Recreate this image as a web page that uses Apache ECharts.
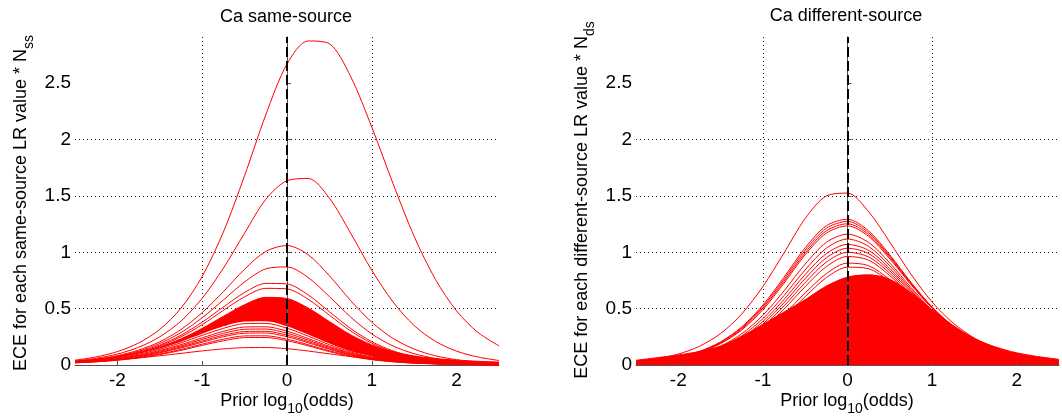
<!DOCTYPE html>
<html>
<head>
<meta charset="utf-8">
<script src="https://cdn.jsdelivr.net/npm/echarts@6/dist/echarts.min.js"></script>
<style>
  html, body { margin: 0; padding: 0; background: #fff; }
  #chart { width: 1062px; height: 419px; }
</style>
</head>
<body>
<div id="chart"></div>
<script>
// Prior log10(odds) sample positions shared by every curve
const priorLogOdds = [-2.5, -2.25, -2, -1.75, -1.5, -1.25, -1, -0.75, -0.5, -0.25, 0,
                      0.25, 0.5, 0.75, 1, 1.25, 1.5, 1.75, 2, 2.25, 2.5];

// ---- Ca same-source: per-LR ECE curves (x N_ss) ----
const ssPeak291 = [0.043, 0.072, 0.119, 0.195, 0.316, 0.504, 0.786, 1.18, 1.68, 2.22, 2.67, 2.875, 2.85, 2.56, 2.11, 1.61, 1.14, 0.76, 0.48, 0.29, 0.17];
const ssPeak166 = [0.036, 0.060, 0.097, 0.157, 0.250, 0.390, 0.592, 0.859, 1.17, 1.47, 1.635, 1.655, 1.48, 1.17, 0.84, 0.56, 0.35, 0.21, 0.123, 0.071, 0.040];
const ssPeak106 = [0.032, 0.052, 0.083, 0.132, 0.206, 0.315, 0.465, 0.651, 0.850, 1.008, 1.06, 0.978, 0.792, 0.572, 0.379, 0.236, 0.141, 0.082, 0.047, 0.027, 0.015];
const ssPeak088 = [0.030, 0.049, 0.078, 0.123, 0.191, 0.288, 0.419, 0.577, 0.737, 0.853, 0.870, 0.776, 0.607, 0.426, 0.275, 0.169, 0.100, 0.058, 0.033, 0.019, 0.011];
const ssPeak073 = [0.029, 0.046, 0.074, 0.116, 0.177, 0.264, 0.380, 0.515, 0.643, 0.724, 0.719, 0.622, 0.473, 0.324, 0.207, 0.125, 0.074, 0.042, 0.024, 0.014, 0.008];
const ssPeak069 = [0.028, 0.044, 0.070, 0.110, 0.168, 0.250, 0.358, 0.485, 0.605, 0.680, 0.675, 0.583, 0.442, 0.302, 0.193, 0.116, 0.068, 0.039, 0.022, 0.013, 0.007];

// dense bundle of same-source curves: upper and lower envelope
const ssBundleTop = [0.033, 0.048, 0.072, 0.108, 0.160, 0.232, 0.325, 0.432, 0.535, 0.600, 0.590, 0.505, 0.385, 0.268, 0.178, 0.118, 0.080, 0.057, 0.043, 0.033, 0.026];
const ssBundleBottom = [0.027, 0.043, 0.066, 0.100, 0.147, 0.207, 0.277, 0.343, 0.386, 0.389, 0.344, 0.270, 0.190, 0.122, 0.075, 0.035, 0.018, 0.010, 0.006, 0.004, 0.003];

// separate low curves under the bundle
const ssPeak037 = [0.028, 0.042, 0.064, 0.095, 0.140, 0.197, 0.263, 0.325, 0.367, 0.369, 0.326, 0.256, 0.180, 0.116, 0.071, 0.043, 0.024, 0.014, 0.008, 0.004, 0.002];
const ssPeak034 = [0.025, 0.038, 0.058, 0.087, 0.129, 0.181, 0.241, 0.299, 0.337, 0.339, 0.300, 0.235, 0.165, 0.107, 0.066, 0.039, 0.022, 0.013, 0.007, 0.004, 0.002];
const ssPeak032 = [0.024, 0.036, 0.055, 0.082, 0.121, 0.170, 0.227, 0.281, 0.317, 0.319, 0.282, 0.221, 0.156, 0.100, 0.062, 0.037, 0.021, 0.012, 0.007, 0.004, 0.002];
const ssPeak030 = [0.023, 0.034, 0.052, 0.077, 0.113, 0.160, 0.213, 0.264, 0.297, 0.299, 0.265, 0.208, 0.146, 0.094, 0.058, 0.035, 0.020, 0.012, 0.006, 0.004, 0.002];
const ssPeak028 = [0.022, 0.032, 0.049, 0.073, 0.108, 0.152, 0.202, 0.251, 0.282, 0.284, 0.251, 0.197, 0.139, 0.089, 0.055, 0.033, 0.019, 0.011, 0.006, 0.003, 0.002];
const ssPeak026 = [0.020, 0.029, 0.045, 0.067, 0.098, 0.138, 0.185, 0.229, 0.258, 0.259, 0.229, 0.180, 0.126, 0.082, 0.050, 0.030, 0.017, 0.010, 0.005, 0.003, 0.002];
const ssPeak024 = [0.019, 0.028, 0.042, 0.063, 0.093, 0.130, 0.174, 0.215, 0.243, 0.244, 0.216, 0.170, 0.119, 0.077, 0.047, 0.028, 0.016, 0.010, 0.005, 0.003, 0.001];
const ssPeak016 = [0.022, 0.032, 0.047, 0.063, 0.082, 0.103, 0.125, 0.143, 0.154, 0.155, 0.145, 0.124, 0.099, 0.075, 0.054, 0.037, 0.025, 0.016, 0.010, 0.006, 0.004];

// ---- Ca different-source: per-LR ECE curves (x N_ds) ----
const dsPeak153 = [0.032, 0.055, 0.097, 0.166, 0.279, 0.453, 0.696, 0.995, 1.30, 1.50, 1.525, 1.36, 1.09, 0.806, 0.559, 0.371, 0.239, 0.151, 0.094, 0.057, 0.035];
const dsPeak129 = [0.023, 0.040, 0.070, 0.121, 0.206, 0.338, 0.532, 0.779, 1.040, 1.235, 1.293, 1.190, 0.977, 0.734, 0.515, 0.345, 0.224, 0.142, 0.089, 0.055, 0.033];
const dsPeak127 = [0.022, 0.039, 0.068, 0.118, 0.201, 0.329, 0.519, 0.761, 1.018, 1.213, 1.274, 1.174, 0.966, 0.727, 0.511, 0.343, 0.223, 0.142, 0.089, 0.055, 0.033];
const dsPeak125 = [0.021, 0.038, 0.066, 0.114, 0.195, 0.320, 0.505, 0.743, 0.996, 1.190, 1.253, 1.157, 0.954, 0.720, 0.507, 0.340, 0.221, 0.141, 0.088, 0.054, 0.033];
const dsPeak123 = [0.0205, 0.0365, 0.064, 0.111, 0.189, 0.311, 0.491, 0.726, 0.978, 1.170, 1.234, 1.141, 0.942, 0.713, 0.503, 0.338, 0.220, 0.141, 0.088, 0.054, 0.033];
const dsPeak116 = [0.018, 0.032, 0.056, 0.098, 0.167, 0.277, 0.441, 0.658, 0.896, 1.088, 1.161, 1.087, 0.905, 0.688, 0.487, 0.328, 0.214, 0.137, 0.086, 0.053, 0.032];
const dsPeak112 = [0.017, 0.030, 0.052, 0.091, 0.155, 0.258, 0.411, 0.616, 0.844, 1.036, 1.118, 1.052, 0.880, 0.672, 0.478, 0.323, 0.211, 0.135, 0.085, 0.053, 0.032];
const dsPeak107 = [0.016, 0.028, 0.048, 0.084, 0.144, 0.240, 0.386, 0.581, 0.803, 0.988, 1.070, 1.017, 0.856, 0.658, 0.469, 0.318, 0.208, 0.133, 0.084, 0.052, 0.032];
const dsPeak104 = [0.0145, 0.026, 0.045, 0.079, 0.136, 0.227, 0.364, 0.553, 0.767, 0.951, 1.036, 0.989, 0.836, 0.644, 0.461, 0.313, 0.205, 0.132, 0.083, 0.051, 0.031];
const dsPeak100 = [0.0136, 0.024, 0.0423, 0.0737, 0.127, 0.213, 0.344, 0.524, 0.731, 0.913, 1.0, 0.959, 0.814, 0.628, 0.450, 0.307, 0.201, 0.130, 0.082, 0.051, 0.031];
const dsPeak096 = [0.013, 0.022, 0.040, 0.069, 0.119, 0.200, 0.324, 0.496, 0.696, 0.873, 0.963, 0.930, 0.793, 0.615, 0.442, 0.303, 0.199, 0.128, 0.081, 0.050, 0.031];
const dsPeak090 = [0.0113, 0.020, 0.0353, 0.0617, 0.1065, 0.180, 0.293, 0.451, 0.639, 0.811, 0.904, 0.881, 0.757, 0.591, 0.427, 0.293, 0.194, 0.125, 0.079, 0.049, 0.030];
const dsPeak086 = [0.0105, 0.0185, 0.0327, 0.0572, 0.0988, 0.167, 0.274, 0.424, 0.606, 0.775, 0.868, 0.854, 0.740, 0.582, 0.422, 0.290, 0.192, 0.124, 0.078, 0.048, 0.030];
// solid mass of lower different-source curves
const dsMass = [0.042, 0.065, 0.089, 0.12, 0.168, 0.255, 0.36, 0.47, 0.58, 0.70, 0.78, 0.80, 0.76, 0.64, 0.49, 0.35, 0.235, 0.16, 0.108, 0.075, 0.05];

// axis tick values
const xTicks = [-2, -1, 0, 1, 2];
const yTicks = [0, 0.5, 1, 1.5, 2, 2.5];

const RED = '#ff0000';
const FONT = 'Liberation Sans, Arial, sans-serif';

const ssSingles = [ssPeak291, ssPeak166, ssPeak106, ssPeak088, ssPeak073, ssPeak069,
                   ssPeak037, ssPeak034, ssPeak032, ssPeak030, ssPeak028, ssPeak026, ssPeak024, ssPeak016];
const dsSingles = [dsPeak086, dsPeak090, dsPeak096, dsPeak100, dsPeak104, dsPeak107, dsPeak112,
                   dsPeak116, dsPeak123, dsPeak125, dsPeak127, dsPeak129, dsPeak153];

const pairs = ys => priorLogOdds.map((x, i) => [x, ys[i]]);

function curve(ys, idx, extra) {
  return Object.assign({
    type: 'line', xAxisIndex: idx, yAxisIndex: idx, data: pairs(ys),
    showSymbol: false, smooth: 0.3, silent: true, clip: false,
    lineStyle: { color: RED, width: 1 }
  }, extra || {});
}

const series = [];
// same-source bundle: red mass under the top envelope, cleared below the bottom envelope
series.push(curve(ssBundleTop, 0, { areaStyle: { color: RED, opacity: 1 } }));
series.push(curve(ssBundleBottom, 0, { lineStyle: { opacity: 0 }, areaStyle: { color: '#fff', opacity: 1 } }));
ssSingles.forEach(ys => series.push(curve(ys, 0)));

// different-source mass then individual curves
series.push(curve(dsMass, 1, { areaStyle: { color: RED, opacity: 1 } }));
dsSingles.forEach(ys => series.push(curve(ys, 1)));

// dashed reference at even prior odds
[0, 1].forEach(idx => series.push({
  type: 'line', xAxisIndex: idx, yAxisIndex: idx, data: [], z: 10, silent: true,
  markLine: {
    silent: true, symbol: ['none', 'none'], label: { show: false },
    lineStyle: { color: '#000', type: [10, 4], width: 2 },
    emphasis: { disabled: true },
    data: [{ xAxis: 0 }]
  }
}));

const gridLine = { show: true, showMinLine: false, showMaxLine: false,
                   lineStyle: { color: '#222', width: 1, type: [1, 3] } };

function xAxis(idx) {
  return {
    type: 'value', gridIndex: idx, min: -2.5, max: 2.5, z: 3,
    axisLine: { show: true, onZero: false, lineStyle: { color: '#555', width: 1 } },
    axisTick: { show: true, inside: true, length: 4, customValues: xTicks, lineStyle: { color: '#555' } },
    axisLabel: { color: '#000', fontSize: 19, fontFamily: FONT, margin: 6, customValues: xTicks },
    splitLine: gridLine
  };
}
function yAxis(idx) {
  return {
    type: 'value', gridIndex: idx, min: 0, max: 2.91, z: 3,
    axisLine: { show: true, lineStyle: { color: '#555', width: 1 } },
    axisTick: { show: true, inside: true, length: 4, customValues: yTicks, lineStyle: { color: '#555' } },
    axisLabel: { color: '#000', fontSize: 19, fontFamily: FONT, margin: 4, customValues: yTicks },
    splitLine: gridLine
  };
}

const richLabel = {
  m: { fontSize: 18, verticalAlign: 'top', fontFamily: FONT, fill: '#000' },
  s: { fontSize: 14, verticalAlign: 'top', padding: [10.5, 0, 0, 0], fontFamily: FONT, fill: '#000' }
};
function label(x, y, text, rot) {
  return {
    type: 'text', x: x, y: y, rotation: rot || 0, silent: true,
    style: { text: text, rich: richLabel, align: 'center', verticalAlign: 'middle',
             fontFamily: FONT, fontSize: 18, fill: '#000' }
  };
}

const chart = echarts.init(document.getElementById('chart'), null, { renderer: 'canvas' });
chart.setOption({
  animation: false,
  backgroundColor: '#fff',
  grid: [
    { left: 75, top: 37, width: 424, height: 328 },
    { left: 636, top: 37, width: 423, height: 328 }
  ],
  xAxis: [xAxis(0), xAxis(1)],
  yAxis: [yAxis(0), yAxis(1)],
  series: series,
  graphic: [
    { type: 'text', x: 286, y: 17, silent: true,
      style: { text: 'Ca same-source', align: 'center', verticalAlign: 'middle', fontSize: 18, fontFamily: FONT, fill: '#000' } },
    { type: 'text', x: 846, y: 16, silent: true,
      style: { text: 'Ca different-source', align: 'center', verticalAlign: 'middle', fontSize: 18, fontFamily: FONT, fill: '#000' } },
    label(287, 404, '{m|Prior log}{s|10}{m|(odds)}'),
    label(847, 404, '{m|Prior log}{s|10}{m|(odds)}'),
    label(24, 203, '{m|ECE for each same-source LR value * N}{s|ss}', Math.PI / 2),
    label(585, 200, '{m|ECE for each different-source LR value * N}{s|ds}', Math.PI / 2)
  ]
});
</script>
</body>
</html>
